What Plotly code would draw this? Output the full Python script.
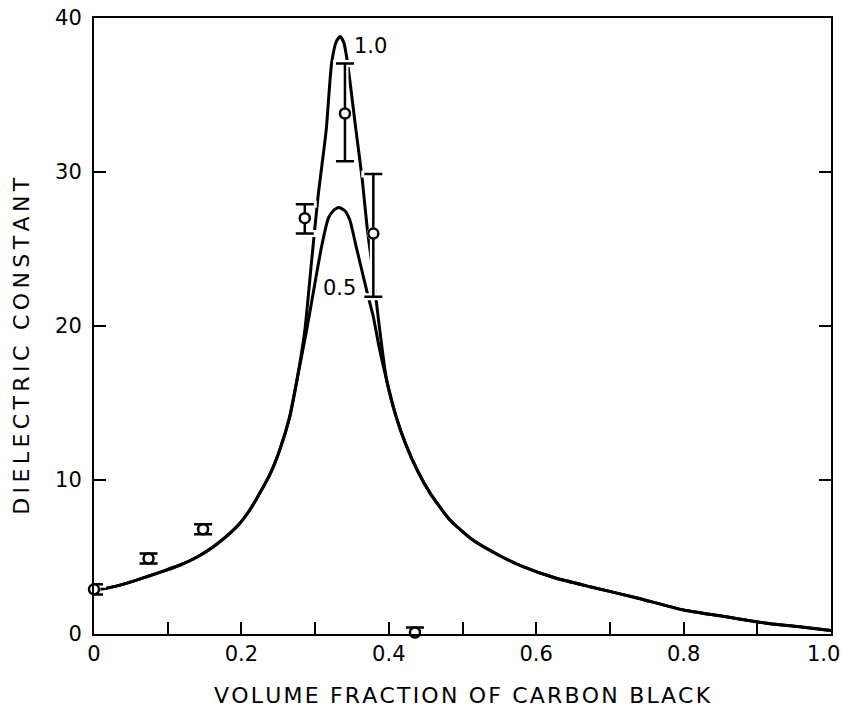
import plotly.graph_objects as go

# Calculated dielectric constant curves (shape parameter 1.0 and 0.5)
curve_10_x = [0.0, 0.017, 0.045, 0.0715, 0.095, 0.117, 0.14, 0.162, 0.18, 0.198, 0.212, 0.225, 0.24, 0.252,
              0.265, 0.275, 0.286, 0.295, 0.304, 0.315, 0.3225, 0.329, 0.334, 0.339, 0.344, 0.3555, 0.364,
              0.371, 0.379, 0.385, 0.397, 0.41, 0.424, 0.44, 0.456, 0.483, 0.514, 0.55, 0.582, 0.625, 0.673,
              0.737, 0.8, 0.86, 0.913, 0.96, 1.0]
curve_10_y = [2.9, 2.97, 3.3, 3.72, 4.1, 4.48, 5.0, 5.67, 6.35, 7.19, 8.1, 9.15, 10.5, 11.95,
              14.0, 16.4, 19.7, 24.1, 28.4, 32.7, 37.1, 38.5, 38.8, 38.4, 37.1, 32.7, 29.5,
              26.2, 23.3, 20.8, 16.5, 14.1, 12.2, 10.5, 9.15, 7.4, 6.1, 5.1, 4.37, 3.65, 3.07,
              2.34, 1.56, 1.1, 0.7, 0.45, 0.22]

curve_05_x = [0.0, 0.017, 0.045, 0.0715, 0.095, 0.117, 0.14, 0.162, 0.18, 0.198, 0.212, 0.225, 0.24, 0.252,
              0.265, 0.275, 0.288, 0.298, 0.309, 0.318, 0.325, 0.332, 0.34, 0.347, 0.3555, 0.363, 0.37,
              0.379, 0.387, 0.397, 0.41, 0.424, 0.44, 0.456, 0.483, 0.514, 0.55, 0.582, 0.625, 0.673,
              0.737, 0.8, 0.86, 0.913, 0.96, 1.0]
curve_05_y = [2.9, 2.97, 3.3, 3.72, 4.1, 4.48, 5.0, 5.67, 6.35, 7.19, 8.1, 9.15, 10.5, 11.95,
              14.0, 16.4, 19.6, 22.3, 25.2, 27.0, 27.5, 27.7, 27.5, 26.9, 25.2, 23.7, 22.3,
              20.6, 18.6, 16.5, 14.1, 12.2, 10.5, 9.15, 7.4, 6.1, 5.1, 4.37, 3.65, 3.07,
              2.34, 1.56, 1.1, 0.7, 0.45, 0.22]

# Measured values with error bars
meas_x = [0.0, 0.074, 0.148, 0.286, 0.3405, 0.379, 0.4355]
meas_y = [2.9, 4.9, 6.8, 27.0, 33.8, 26.0, 0.1]
meas_err_plus = [0.33, 0.33, 0.33, 0.9, 3.25, 3.87, 0.33]
meas_err_minus = [0.33, 0.33, 0.33, 1.0, 3.1, 4.1, 0.33]

curve_labels = ["1.0", "0.5"]
curve_label_x = [0.375, 0.333]
curve_label_y = [38.2, 22.5]

x_tick_vals = [0.0, 0.1, 0.2, 0.3, 0.4, 0.5, 0.6, 0.7, 0.8, 0.9, 1.0]
x_tick_text = ["0", "", "0.2", "", "0.4", "", "0.6", "", "0.8", "", ""]
x_end_label = "1.0"   # last x label, set flush against the right edge
y_tick_vals = [0, 10, 20, 30, 40]
y_tick_text = ["0", "10", "20", "30", "40"]

x_title = "VOLUME FRACTION OF CARBON BLACK"
y_title = "DIELECTRIC CONSTANT"

FONT = "DejaVu Sans"
INK = "black"


def spaced(s, gap="\u200a"):
    # widen the lettering with narrow spaces between characters
    return gap.join(s)


fig = go.Figure()

for cx, cy in [(curve_10_x, curve_10_y), (curve_05_x, curve_05_y)]:
    fig.add_trace(go.Scatter(
        x=cx, y=cy, mode="lines",
        line=dict(color=INK, width=3, shape="spline", smoothing=0.6),
        hoverinfo="skip", showlegend=False,
    ))

# white halo under the error bars, so the curves break where they cross them
fig.add_trace(go.Scatter(
    x=meas_x, y=meas_y, mode="markers",
    marker=dict(symbol="circle", size=13, color="white"),
    error_y=dict(type="data", symmetric=False, array=meas_err_plus, arrayminus=meas_err_minus,
                 color="white", thickness=7, width=12),
    cliponaxis=False, hoverinfo="skip", showlegend=False,
))

fig.add_trace(go.Scatter(
    x=meas_x, y=meas_y, mode="markers",
    marker=dict(symbol="circle", size=10, color="white", line=dict(color=INK, width=2.5)),
    error_y=dict(type="data", symmetric=False, array=meas_err_plus, arrayminus=meas_err_minus,
                 color=INK, thickness=2.5, width=9),
    cliponaxis=False, showlegend=False,
))

for txt, lx, ly in zip(curve_labels, curve_label_x, curve_label_y):
    fig.add_annotation(x=lx, y=ly, text=txt, showarrow=False,
                       font=dict(family=FONT, size=21, color=INK))

fig.add_annotation(xref="x", yref="paper", x=x_tick_vals[-1], y=0, xanchor="right", yanchor="middle",
                   xshift=11, yshift=-20, text=x_end_label, showarrow=False,
                   font=dict(family=FONT, size=21, color=INK))

fig.add_annotation(xref="paper", yref="paper", x=0.5, y=0, yshift=-61, text=spaced(x_title),
                   showarrow=False, font=dict(family=FONT, size=22, color=INK), yanchor="middle")
fig.add_annotation(xref="paper", yref="paper", x=0, y=0.468, xshift=-72,
                   text=spaced(y_title, "\u2009"),
                   showarrow=False, textangle=-90, font=dict(family=FONT, size=22, color=INK),
                   xanchor="center", yanchor="middle")

fig.update_xaxes(
    range=[0, 1], tickvals=x_tick_vals, ticktext=x_tick_text,
    ticks="inside", ticklen=12, tickwidth=2, tickcolor=INK,
    showline=True, linewidth=2, linecolor=INK, mirror=True,
    showgrid=False, zeroline=False, automargin=False,
    tickfont=dict(family=FONT, size=21, color=INK),
)
fig.update_yaxes(
    range=[0, 40], tickvals=y_tick_vals, ticktext=y_tick_text,
    ticks="inside", ticklen=12, tickwidth=2, tickcolor=INK,
    showline=True, linewidth=2, linecolor=INK, mirror="ticks",
    showgrid=False, zeroline=False, ticklabelstandoff=6, ticklabeloverflow="allow",
    automargin=False,
    tickfont=dict(family=FONT, size=21, color=INK),
)

fig.update_layout(
    width=841, height=710,
    margin=dict(l=94, r=10, t=18, b=76, autoexpand=False),
    paper_bgcolor="white", plot_bgcolor="white",
)

fig.write_html("out.html")
